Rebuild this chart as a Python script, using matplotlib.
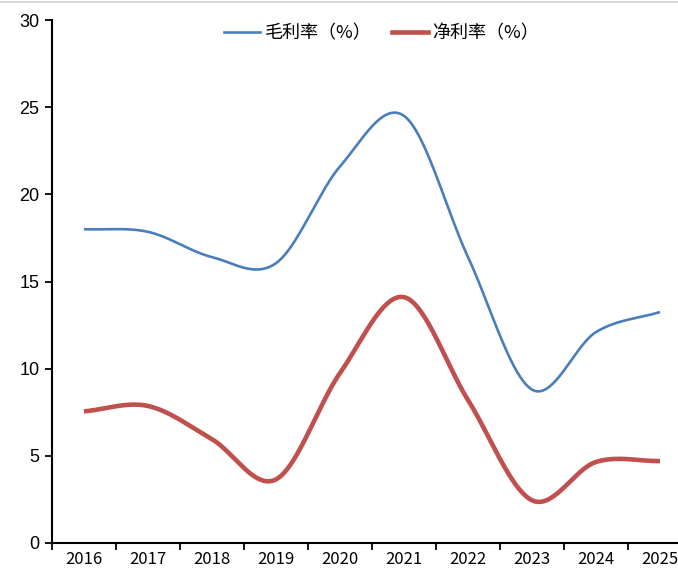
import numpy as np
import matplotlib.pyplot as plt
from matplotlib.lines import Line2D

plt.rcParams['font.family'] = ['Noto Sans CJK SC', 'DejaVu Sans']

years = ['2016', '2017', '2018', '2019', '2020', '2021', '2022', '2023', '2024', '2025']
gross_margin = [18.0, 17.85, 16.4, 16.05, 21.6, 24.5, 16.4, 8.8, 12.1, 13.25]
net_margin = [7.55, 7.86, 5.95, 3.65, 9.75, 14.1, 8.2, 2.45, 4.65, 4.7]
y_ticks = [0, 5, 10, 15, 20, 25, 30]


def smooth(xs, ys, n=40):
    # catmull-rom curve through the points, like excel's smoothed line
    p = np.column_stack([xs, ys]).astype(float)
    p = np.vstack([p[0] - (p[1] - p[0]), p, p[-1] + (p[-1] - p[-2])])
    out = []
    t = np.linspace(0, 1, n)[:, None]
    for i in range(1, len(p) - 2):
        p0, p1, p2, p3 = p[i - 1], p[i], p[i + 1], p[i + 2]
        c1 = p1 + (p2 - p0) / 6
        c2 = p2 - (p3 - p1) / 6
        seg = ((1 - t) ** 3) * p1 + 3 * ((1 - t) ** 2) * t * c1 + 3 * (1 - t) * t ** 2 * c2 + t ** 3 * p2
        out.append(seg if i == 1 else seg[1:])
    out = np.vstack(out)
    return out[:, 0], out[:, 1]


fig = plt.figure(figsize=(6.78, 5.80), dpi=100)
ax = fig.add_axes([0.0767, 0.0638, 0.944, 0.9017])

x = np.arange(len(years))
bx, by = smooth(x, gross_margin)
rx, ry = smooth(x, net_margin)
ax.plot(bx, by, color='#4A7EBB', lw=1.9, solid_capstyle='butt')
ax.plot(rx, ry, color='#C0504D', lw=3.3, solid_capstyle='butt')

ax.set_xlim(-0.5, len(years) - 0.5)
ax.set_ylim(0, 30)
ax.set_yticks(y_ticks)
ax.set_yticklabels([str(v) for v in y_ticks], family='Liberation Sans', fontsize=13)
ax.set_xticks(np.arange(len(years) + 1) - 0.5, minor=False)
ax.set_xticklabels([])
ax.set_xticks(x, minor=True)
ax.set_xticklabels(years, minor=True, fontsize=12, family=['Noto Sans CJK SC', 'DejaVu Sans'])
ax.tick_params(axis='x', which='minor', length=0, pad=6)
ax.tick_params(axis='x', which='major', length=5, width=1.3, direction='out')
ax.tick_params(axis='y', length=5, width=1.3, direction='out', pad=4)

for s in ['top', 'right']:
    ax.spines[s].set_visible(False)
for s in ['left', 'bottom']:
    ax.spines[s].set_linewidth(1.5)
    ax.spines[s].set_color('black')

handles = [Line2D([], [], color='#4A7EBB', lw=1.9),
           Line2D([], [], color='#C0504D', lw=3.3)]
ax.legend(handles, ['毛利率（%）', '净利率（%）'], loc='center',
          bbox_to_anchor=(0.515, 0.975), ncol=2, frameon=False, fontsize=13,
          handlelength=2.0, handletextpad=0.25, columnspacing=1.1)

fig.add_artist(Line2D([0, 1], [0.997, 0.997], color='#d9d9d9', lw=1.5))

fig.savefig('out.png', dpi=100)
